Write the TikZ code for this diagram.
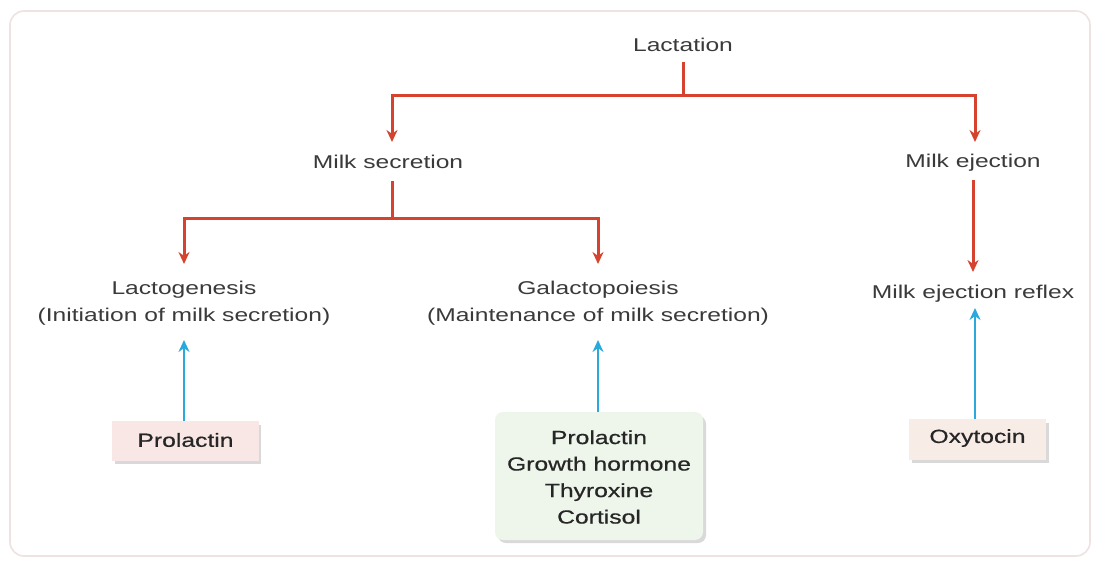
\documentclass[tikz,border=0pt]{standalone}
\usepackage{fontspec}
\setmainfont[FakeStretch=1.33]{Liberation Sans}
\newfontfamily\boxfont[FakeStretch=1.3,FakeBold=0.6]{Liberation Sans}
\usetikzlibrary{arrows.meta}
\definecolor{lred}{HTML}{D5432E}
\definecolor{lblue}{HTML}{2BA9DC}
\definecolor{ltxt}{HTML}{3A3A3A}
\definecolor{pinkbox}{HTML}{F8E7E4}
\definecolor{greenbox}{HTML}{EEF5EA}
\definecolor{beigebox}{HTML}{F8ECE6}
\definecolor{framec}{HTML}{EFE2E2}
\tikzset{
  lbl/.style={font=\fontsize{18.5}{27}\selectfont, text=ltxt, inner sep=0pt, anchor=base, align=center},
  hbox/.style={font=\boxfont\fontsize{19}{26.5}\selectfont, text=black!85, inner sep=0pt, align=center},
  redline/.style={draw=lred, line width=3pt},
  redarrow/.style={redline, -{Stealth[length=12pt,width=11pt]}},
  bluearrow/.style={draw=lblue, line width=2.8pt, -{Stealth[length=12pt,width=11pt]}},
  shad/.style={fill=black!15, draw=none},
}
\begin{document}
\begin{tikzpicture}[x=1pt,y=-1pt]
\useasboundingbox (0,0) rectangle (1099,563);
\fill[white] (0,0) rectangle (1099,563);
\draw[framec, line width=1.6pt, rounded corners=14pt] (10,11) rectangle (1090,556);

% text nodes
\node[lbl] (lact) at (683,51) {Lactation};
\node[lbl] (ms) at (388,168) {Milk secretion};
\node[lbl] (me) at (973,167) {Milk ejection};
\node[lbl] (lg) at (184,321) {Lactogenesis\\(Initiation of milk secretion)};
\node[lbl] (gp) at (598,321) {Galactopoiesis\\(Maintenance of milk secretion)};
\node[lbl] (mer) at (973,298) {Milk ejection reflex};

% coordinates for connectors
\coordinate (lactb) at (683,62);
\coordinate (j1) at (683,95);
\coordinate (j1l) at (392,95);
\coordinate (j1r) at (975,95);
\coordinate (t1l) at (392,142);
\coordinate (t1r) at (975,142);
\coordinate (msb) at (392,181);
\coordinate (j2) at (392,218);
\coordinate (j2l) at (184,218);
\coordinate (j2r) at (598,218);
\coordinate (t2l) at (184,264);
\coordinate (t2r) at (598,264);
\coordinate (meb) at (973,180);
\coordinate (t3) at (973,272);

\draw[redline] (lactb) -- (j1);
\draw[redline, line cap=rect] (j1l) -- (j1r);
\draw[redarrow] (j1l) -- (t1l);
\draw[redarrow] (j1r) -- (t1r);
\draw[redline] (msb) -- (j2);
\draw[redline, line cap=rect] (j2l) -- (j2r);
\draw[redarrow] (j2l) -- (t2l);
\draw[redarrow] (j2r) -- (t2r);
\draw[redarrow] (meb) -- (t3);

% boxes
\fill[shad] (115,425) rectangle (261,464);
\fill[pinkbox] (112,421) rectangle (259,461);
\node[hbox] (pr) at (185.5,440) {Prolactin};

\fill[shad, rounded corners=8pt] (498,416) rectangle (706,543);
\fill[greenbox, rounded corners=8pt] (495,412) rectangle (703,540);
\node[hbox] (gh) at (599,477) {Prolactin\\Growth hormone\\Thyroxine\\Cortisol};

\fill[shad] (912,423) rectangle (1049,463);
\fill[beigebox] (909,419) rectangle (1046,460);
\node[hbox] (ox) at (977.5,438) {Oxytocin};

\coordinate (b1) at (184,421);
\coordinate (b1t) at (184,340);
\coordinate (b2) at (598,412);
\coordinate (b2t) at (598,340);
\coordinate (b3) at (975,419);
\coordinate (b3t) at (975,308);
\draw[bluearrow] (b1) -- (b1t);
\draw[bluearrow] (b2) -- (b2t);
\draw[bluearrow] (b3) -- (b3t);
\end{tikzpicture}
\end{document}
